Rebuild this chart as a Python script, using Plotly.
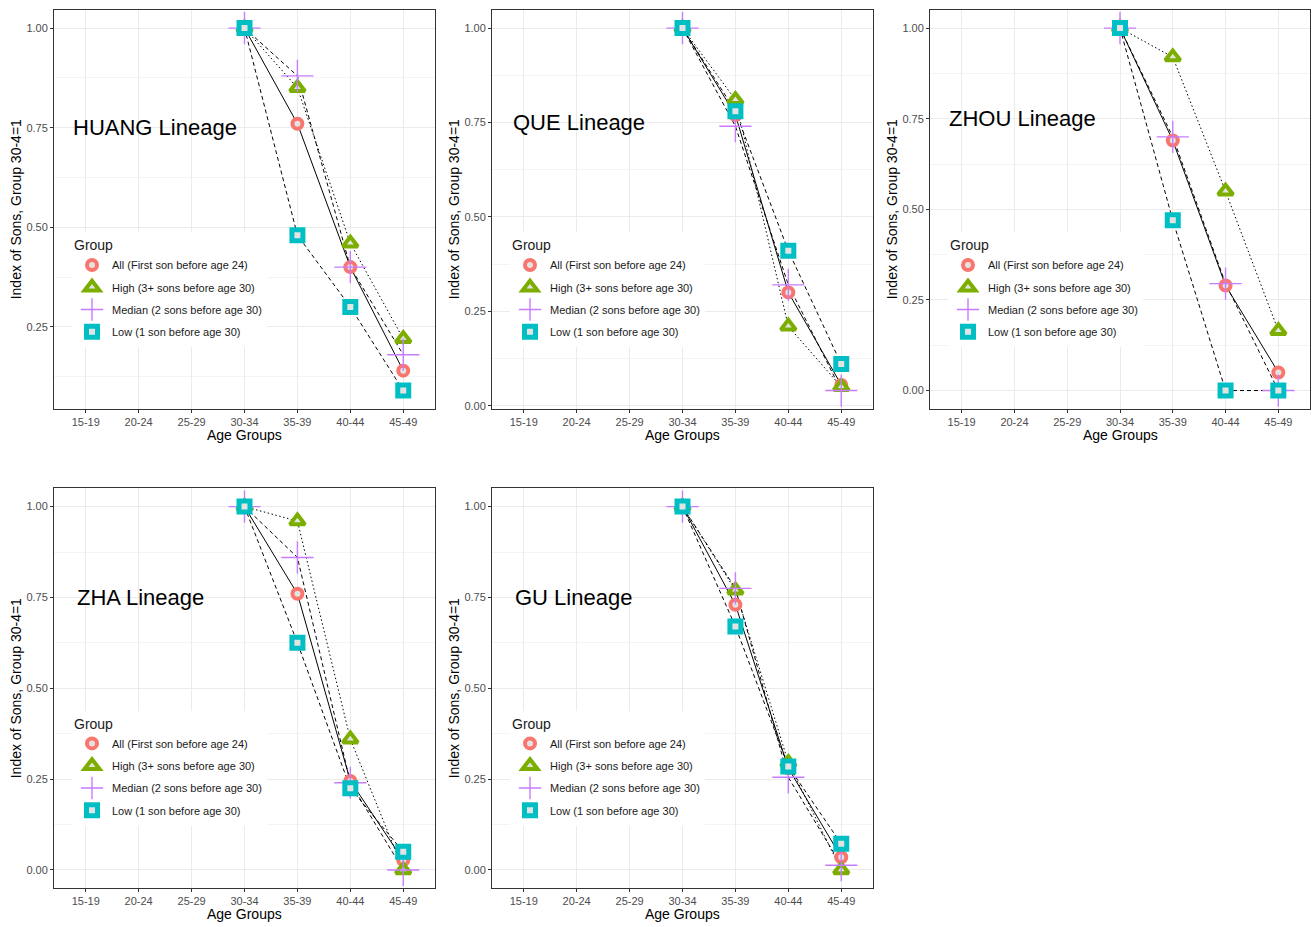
import plotly.graph_objects as go

# ---- data -------------------------------------------------------------
age_groups = ["15-19", "20-24", "25-29", "30-34", "35-39", "40-44", "45-49"]
observed_ages = ["30-34", "35-39", "40-44", "45-49"]

group_names = [
    "All (First son before age 24)",
    "High (3+ sons before age 30)",
    "Median (2 sons before age 30)",
    "Low (1 son before age 30)",
]

huang_all = [1.0, 0.76, 0.40, 0.14]
huang_high = [1.0, 0.85, 0.46, 0.22]
huang_median = [1.0, 0.88, 0.40, 0.18]
huang_low = [1.0, 0.48, 0.30, 0.09]

que_all = [1.0, 0.77, 0.30, 0.055]
que_high = [1.0, 0.81, 0.21, 0.05]
que_median = [1.0, 0.74, 0.32, 0.04]
que_low = [1.0, 0.78, 0.41, 0.11]

zhou_all = [1.0, 0.69, 0.29, 0.05]
zhou_high = [1.0, 0.92, 0.55, 0.165]
zhou_median = [1.0, 0.70, 0.295, 0.0]
zhou_low = [1.0, 0.47, 0.0, 0.0]

zha_all = [1.0, 0.76, 0.245, 0.027]
zha_high = [1.0, 0.96, 0.36, 0.0]
zha_median = [1.0, 0.86, 0.24, 0.0]
zha_low = [1.0, 0.625, 0.225, 0.05]

gu_all = [1.0, 0.73, 0.28, 0.035]
gu_high = [1.0, 0.77, 0.295, 0.0]
gu_median = [1.0, 0.775, 0.255, 0.013]
gu_low = [1.0, 0.67, 0.285, 0.072]

lineage_titles = ["HUANG Lineage", "QUE Lineage", "ZHOU Lineage", "ZHA Lineage", "GU Lineage"]
lineage_series = [
    [huang_all, huang_high, huang_median, huang_low],
    [que_all, que_high, que_median, que_low],
    [zhou_all, zhou_high, zhou_median, zhou_low],
    [zha_all, zha_high, zha_median, zha_low],
    [gu_all, gu_high, gu_median, gu_low],
]

# ---- styling ------------------------------------------------------------
W, H = 1312, 927
FONT = "Liberation Sans, Arial, Helvetica, sans-serif"
GREY_FILL = "#E3E3E3"

marker_styles = [
    dict(symbol="circle", size=10, color=GREY_FILL, line=dict(color="#F8766D", width=4)),
    dict(symbol="triangle-up", size=13, color=GREY_FILL, line=dict(color="#7CAE00", width=4)),
    dict(symbol="cross-thin-open", size=23, color="#C77CFF", line=dict(color="#CFA0FF", width=1.4)),
    dict(symbol="square", size=11, color=GREY_FILL, line=dict(color="#00BFC4", width=5)),
]
line_dashes = ["solid", "1.5px,2.5px", "4px,3px", "4px,3px"]

# panel boxes in pixels: left, right, top, bottom
panel_boxes = [
    (54, 435, 10, 410),
    (492, 873, 10, 410),
    (930, 1310, 10, 410),
    (54, 435, 490, 891),
    (492, 873, 490, 891),
]
label_x = [-0.27, -0.25, -0.28, -0.21, -0.21]

fig = go.Figure()
layout = dict(
    width=W, height=H,
    margin=dict(l=0, r=0, t=0, b=0),
    paper_bgcolor="white",
    plot_bgcolor="white",
    font=dict(family=FONT, color="#000000"),
    showlegend=True,
    annotations=[],
)


def px_x(p):
    return p / W


def px_y(p):
    return 1 - p / H


for i, (title, series, box) in enumerate(zip(lineage_titles, lineage_series, panel_boxes)):
    n = i + 1
    xa = "x" if n == 1 else f"x{n}"
    ya = "y" if n == 1 else f"y{n}"
    leg = "legend" if n == 1 else f"legend{n}"
    l, r, t, b = box

    # connecting lines first, points drawn on top
    for vals, dash in zip(series, line_dashes):
        fig.add_trace(go.Scatter(
            x=observed_ages, y=vals, mode="lines",
            line=dict(color="black", width=1, dash=dash),
            xaxis=xa, yaxis=ya, showlegend=False, hoverinfo="skip",
        ))
    for k, (vals, name, mk) in enumerate(zip(series, group_names, marker_styles)):
        fig.add_trace(go.Scatter(
            x=observed_ages, y=vals, mode="markers", name=name,
            marker=mk, xaxis=xa, yaxis=ya, legend=leg,
            legendgroup=f"{leg}-{k}",
        ))

    allv = [v for s in series for v in s]
    lo, hi = min(allv), max(allv)
    pad = 0.05 * (hi - lo)

    xkey = "xaxis" if n == 1 else f"xaxis{n}"
    ykey = "yaxis" if n == 1 else f"yaxis{n}"
    layout[xkey] = dict(
        domain=[px_x(l), px_x(r)], anchor=ya,
        type="category", categoryorder="array", categoryarray=age_groups,
        range=[-0.6, len(age_groups) - 0.4],
        showgrid=True, gridcolor="#EBEBEB", gridwidth=1,
        showline=True, mirror=True, linecolor="#333333", linewidth=1,
        ticks="outside", ticklen=3, tickcolor="#333333",
        tickfont=dict(size=11, color="#4D4D4D", family=FONT),
        zeroline=False, fixedrange=True,
    )
    layout[ykey] = dict(
        domain=[px_y(b), px_y(t)], anchor=xa,
        range=[lo - pad, hi + pad],
        tickmode="linear", tick0=0, dtick=0.25, tickformat=".2f",
        showgrid=True, gridcolor="#EBEBEB", gridwidth=1,
        minor=dict(tick0=0, dtick=0.125, showgrid=True, gridcolor="#F4F4F4", gridwidth=0.6),
        showline=True, mirror=True, linecolor="#333333", linewidth=1,
        ticks="outside", ticklen=3, tickcolor="#333333",
        tickfont=dict(size=11, color="#4D4D4D", family=FONT),
        zeroline=False, fixedrange=True,
    )

    layout[leg] = dict(
        x=px_x(l + 18), y=px_y(t + 223), xanchor="left", yanchor="top",
        bgcolor="white", borderwidth=0,
        title=dict(text="Group", font=dict(size=14, family=FONT)),
        font=dict(size=11, family=FONT, color="#1A1A1A"),
        itemsizing="trace", tracegroupgap=3.3,
    )

    # lineage label inside the panel
    layout["annotations"].append(dict(
        x=label_x[i], y=0.75, xref=xa, yref=ya, text=title,
        showarrow=False, xanchor="left", yanchor="middle",
        font=dict(size=22, family=FONT, color="black"),
    ))
    # axis titles
    layout["annotations"].append(dict(
        x=px_x((l + r) / 2), y=px_y(b + 26), xref="paper", yref="paper",
        text="Age Groups", showarrow=False, xanchor="center", yanchor="middle",
        font=dict(size=14, family=FONT, color="black"),
    ))
    layout["annotations"].append(dict(
        x=px_x(l - 38), y=px_y((t + b) / 2), xref="paper", yref="paper",
        text="Index of Sons, Group 30-4=1", showarrow=False, textangle=-90,
        xanchor="center", yanchor="middle",
        font=dict(size=14, family=FONT, color="black"),
    ))

fig.update_layout(**layout)
fig.write_html("out.html")
